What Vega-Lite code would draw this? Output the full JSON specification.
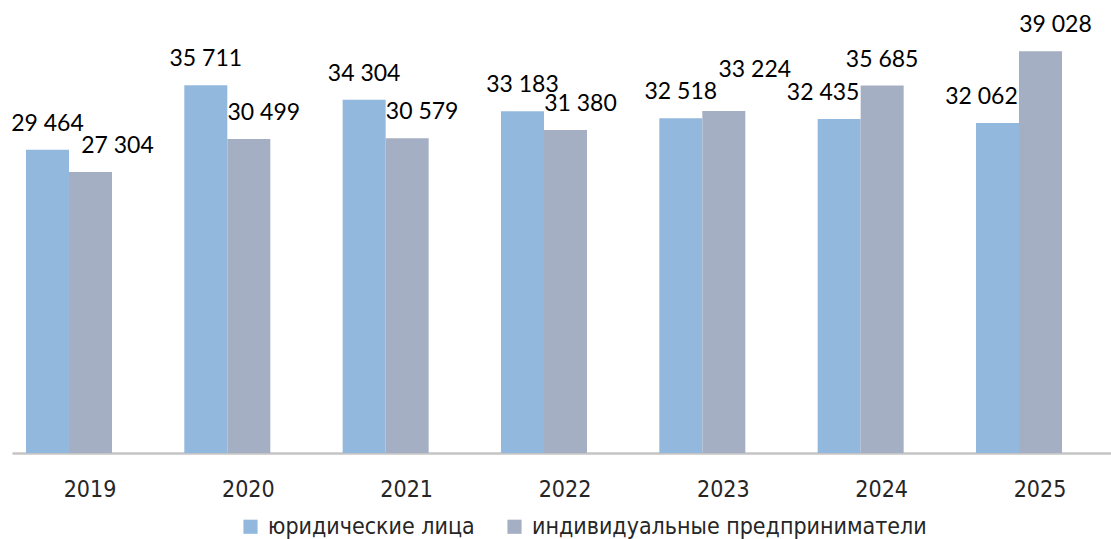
{
  "$schema": "https://vega.github.io/schema/vega-lite/v6.json",
  "width": 1099,
  "height": 453,
  "autosize": {"type": "none"},
  "padding": {"left": 12, "top": 0, "right": 0, "bottom": 86},
  "background": "white",
  "config": {
    "view": {"stroke": null},
    "locale": {"number": {"decimal": ",", "thousands": " ", "grouping": [3], "currency": ["", ""]}},
    "font": "Lato"
  },
  "data": {
    "values": [
      {"year": "2019", "series": "юридические лица", "value": 29464},
      {"year": "2019", "series": "индивидуальные предприниматели", "value": 27304},
      {"year": "2020", "series": "юридические лица", "value": 35711},
      {"year": "2020", "series": "индивидуальные предприниматели", "value": 30499},
      {"year": "2021", "series": "юридические лица", "value": 34304},
      {"year": "2021", "series": "индивидуальные предприниматели", "value": 30579},
      {"year": "2022", "series": "юридические лица", "value": 33183},
      {"year": "2022", "series": "индивидуальные предприниматели", "value": 31380},
      {"year": "2023", "series": "юридические лица", "value": 32518},
      {"year": "2023", "series": "индивидуальные предприниматели", "value": 33224},
      {"year": "2024", "series": "юридические лица", "value": 32435},
      {"year": "2024", "series": "индивидуальные предприниматели", "value": 35685},
      {"year": "2025", "series": "юридические лица", "value": 32062},
      {"year": "2025", "series": "индивидуальные предприниматели", "value": 39028}
    ]
  },
  "encoding": {
    "x": {
      "field": "year", "type": "nominal", "title": null,
      "scale": {"paddingInner": 0.4568, "paddingOuter": 0.1989, "align": 0.222},
      "axis": {
        "labelAngle": 0, "labelFont": "DejaVu Sans Condensed", "labelFontSize": 23, "labelColor": "#262626",
        "ticks": false, "labelPadding": 25, "labelOffset": 21, "domainColor": "#c4c4c4", "domainWidth": 2.5
      }
    },
    "xOffset": {"field": "series", "type": "nominal", "sort": ["юридические лица", "индивидуальные предприниматели"]},
    "y": {
      "field": "value", "type": "quantitative",
      "scale": {"domain": [0, 44000], "nice": false},
      "axis": null
    }
  },
  "layer": [
    {
      "mark": {"type": "bar"},
      "encoding": {
        "color": {
          "field": "series", "type": "nominal",
          "scale": {"domain": ["юридические лица", "индивидуальные предприниматели"], "range": ["#93b8de", "#a5afc3"]},
          "legend": {
            "title": null, "orient": "none", "legendX": 227, "legendY": 515, "direction": "horizontal", "symbolType": "square",
            "symbolSize": 200, "symbolStrokeWidth": 0, "labelFont": "DejaVu Sans Condensed", "labelFontSize": 23, "labelColor": "#262626",
            "labelOffset": 6, "columnPadding": 28, "labelLimit": 500
          }
        }
      }
    },
    {
      "transform": [{"filter": "datum.series == 'юридические лица' && toNumber(datum.year) <= 2023"}],
      "mark": {"type": "text", "fontSize": 23, "font": "Lato", "color": "#000000", "baseline": "alphabetic", "dy": -19},
      "encoding": {"text": {"field": "value", "type": "quantitative", "format": ",d"}}
    },
    {
      "transform": [{"filter": "datum.series == 'юридические лица' && toNumber(datum.year) >= 2024"}],
      "mark": {"type": "text", "fontSize": 23, "font": "Lato", "color": "#000000", "baseline": "alphabetic", "dy": -19, "dx": -16},
      "encoding": {"text": {"field": "value", "type": "quantitative", "format": ",d"}}
    },
    {
      "transform": [{"filter": "datum.series == 'индивидуальные предприниматели' && datum.year != '2019' && datum.year != '2023' && datum.year != '2024'"}],
      "mark": {"type": "text", "fontSize": 23, "font": "Lato", "color": "#000000", "baseline": "alphabetic", "dy": -19, "dx": 15},
      "encoding": {"text": {"field": "value", "type": "quantitative", "format": ",d"}}
    },
    {
      "transform": [{"filter": "datum.series == 'индивидуальные предприниматели' && datum.year == '2019'"}],
      "mark": {"type": "text", "fontSize": 23, "font": "Lato", "color": "#000000", "baseline": "alphabetic", "dy": -19, "dx": 27},
      "encoding": {"text": {"field": "value", "type": "quantitative", "format": ",d"}}
    },
    {
      "transform": [{"filter": "datum.series == 'индивидуальные предприниматели' && datum.year == '2024'"}],
      "mark": {"type": "text", "fontSize": 23, "font": "Lato", "color": "#000000", "baseline": "alphabetic", "dy": -19},
      "encoding": {"text": {"field": "value", "type": "quantitative", "format": ",d"}}
    },
    {
      "transform": [{"filter": "datum.series == 'индивидуальные предприниматели' && datum.year == '2023'"}],
      "mark": {"type": "text", "fontSize": 23, "font": "Lato", "color": "#000000", "baseline": "alphabetic", "dy": -34, "dx": 31},
      "encoding": {"text": {"field": "value", "type": "quantitative", "format": ",d"}}
    }
  ]
}
